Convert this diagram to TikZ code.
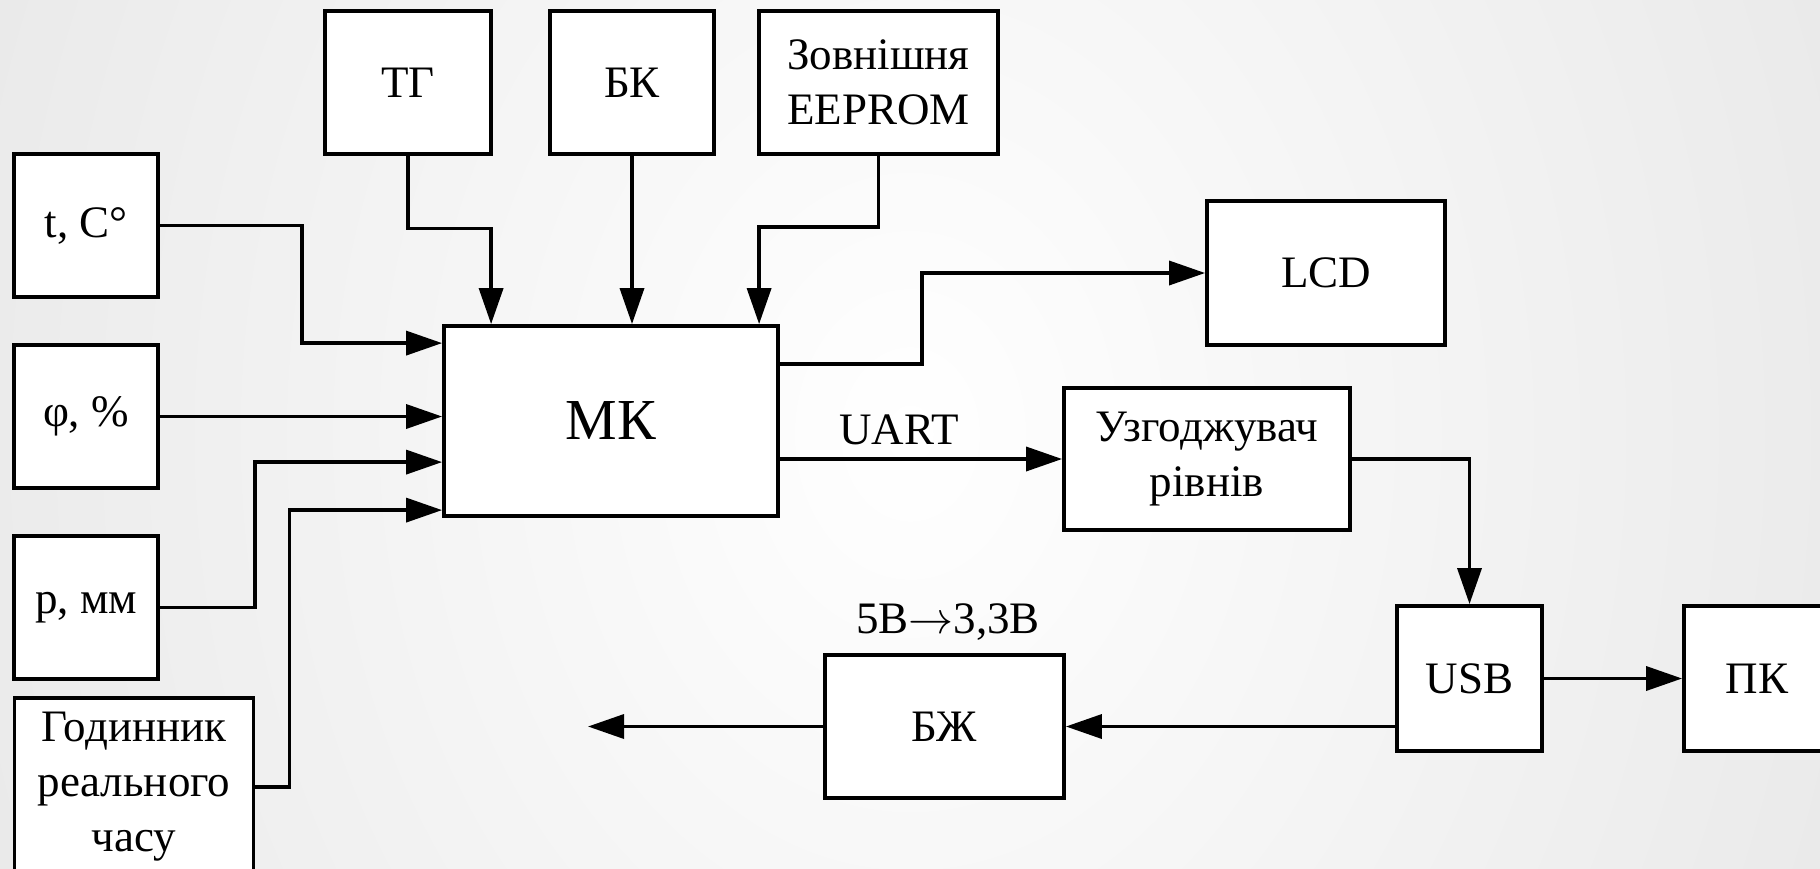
\RequirePackage{fix-cm}
\documentclass[tikz,border=0pt]{standalone}
\usepackage{fontspec}
\setmainfont{Liberation Serif}
\usetikzlibrary{arrows.meta,calc}
\begin{document}
\begin{tikzpicture}[x=1pt,y=-1pt,
  box/.style={draw=black, line width=3.8pt, fill=white, inner sep=0pt, align=center,
              font=\fontsize{45}{55}\selectfont},
  arr/.style={line width=3.5pt, -{Triangle[length=36pt,width=24pt]}},
  lbl/.style={font=\fontsize{45}{55}\selectfont, inner sep=0pt}]
\useasboundingbox (0,0) rectangle (1820,868);
\begin{scope}
\clip (0,0) rectangle (1820,868);
\shade[inner color=white, outer color=black!9] (-150,-900) rectangle (1970,1768);

% boxes
\node[box, minimum width=166pt, minimum height=143pt] (tg) at (408,82.5) {ТГ};
\node[box, minimum width=164pt, minimum height=143pt] (bk) at (632,82.5) {БК};
\node[box, minimum width=239pt, minimum height=143pt] (ee) at (878.5,82.5) {Зовнішня\\EEPROM};
\node[box, minimum width=144pt, minimum height=143pt] (t) at (86,225.5) {t, C°};
\node[box, minimum width=144pt, minimum height=143pt] (phi) at (86,416.5) {φ, \%};
\node[box, minimum width=144pt, minimum height=143pt] (p) at (86,607.5) {p, мм};
\node[box, minimum width=239pt, minimum height=178pt] (clk) at (134,787) {Годинник\\реального\\часу};
\node[box, minimum width=334pt, minimum height=190pt, font=\fontsize{58}{60}\selectfont] (mk) at (611,421) {МК};
\node[box, minimum width=238pt, minimum height=144pt] (lcd) at (1326,273) {LCD};
\node[box, minimum width=286pt, minimum height=142pt] (uz) at (1207,459) {Узгоджувач\\рівнів};
\node[box, minimum width=145pt, minimum height=145pt] (usb) at (1469.5,678.5) {USB};
\node[box, minimum width=146pt, minimum height=145pt] (pk) at (1757,678.5) {ПК};
\node[box, minimum width=239pt, minimum height=143pt] (bzh) at (944.5,726.5) {БЖ};

% labels
\node[lbl] (uart) at (899,430) {UART};
\node[lbl] (volt) at (948,622) {5В$\rightarrow$3,3В};
\coordinate (out) at (588,726.5);

% connectors
\draw[arr] (tg.south) -- ++(0,72.5) -| ([xshift=49pt]mk.north west);
\draw[arr] (bk.south) -- (bk.south |- mk.north);
\draw[arr] (ee.south) -- ++(0,71) -| ([xshift=317pt]mk.north west);
\draw[arr] (t.east) -- ++(142,0) |- ([yshift=-19pt]mk.north west);
\draw[arr] (phi.east) -- (phi.east -| mk.west);
\draw[arr] (p.east) -- ++(95,0) |- ([yshift=-138pt]mk.north west);
\draw[arr] (clk.east) -- ++(34,0) |- ([yshift=-186pt]mk.north west);
\draw[arr] ([yshift=-40pt]mk.north east) -- ++(142,0) |- (lcd.west);
\draw[arr] (uz.west -| mk.east) -- (uz.west);
\draw[arr] (uz.east) -| (usb.north);
\draw[arr] (usb.east) -- (pk.west);
\draw[arr] (usb.west |- bzh.east) -- (bzh.east);
\draw[arr] (bzh.west) -- (out);
\end{scope}
\end{tikzpicture}
\end{document}
